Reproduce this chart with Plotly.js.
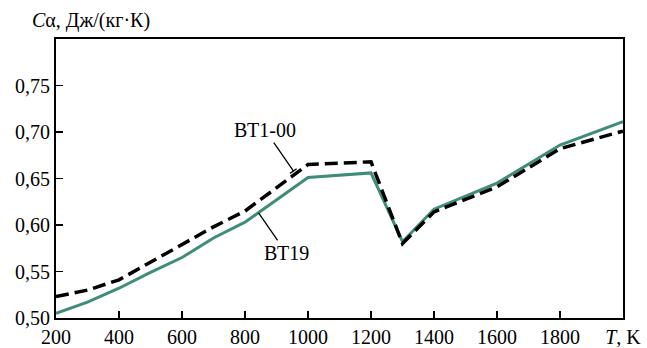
<!DOCTYPE html>
<html>
<head>
<meta charset="utf-8">
<script src="https://cdn.plot.ly/plotly-3.0.1.min.js"></script>
<style>html,body{margin:0;padding:0;background:#fff;}#chart{width:647px;height:348px;}</style>
</head>
<body>
<div id="chart"></div>
<script>
// Temperature, K
const tempBT19 = [200, 300, 400, 500, 600, 700, 800, 1000, 1200, 1300, 1400, 1600, 1800, 2000];
const cpBT19   = [0.505, 0.517, 0.532, 0.549, 0.565, 0.586, 0.603, 0.651, 0.656, 0.582, 0.617, 0.645, 0.686, 0.711];

const tempBT100 = [200, 300, 400, 500, 600, 700, 800, 1000, 1200, 1300, 1400, 1600, 1800, 2000];
const cpBT100   = [0.523, 0.530, 0.541, 0.560, 0.578, 0.598, 0.615, 0.665, 0.668, 0.580, 0.614, 0.641, 0.682, 0.701];

const xTickVals = [200, 400, 600, 800, 1000, 1200, 1400, 1600, 1800, 2000];
const xTickText = ['200', '400', '600', '800', '1000', '1200', '1400', '1600', '1800', '<i>T</i>, K'];
const yTickVals = [0.50, 0.55, 0.60, 0.65, 0.70, 0.75];
const yTickText = ['0,50', '0,55', '0,60', '0,65', '0,70', '0,75'];

const seriesNames = ['ВТ19', 'ВТ1-00'];

const font = {family: 'Liberation Serif, DejaVu Serif, serif', size: 20, color: '#000'};

const traces = [
  {x: tempBT19, y: cpBT19, name: seriesNames[0], mode: 'lines',
   line: {color: '#3f8c7a', width: 3}},
  {x: tempBT100, y: cpBT100, name: seriesNames[1], mode: 'lines',
   line: {color: '#000000', width: 3.5, dash: '13px,6px'}}
];

const layout = {
  width: 647, height: 348,
  margin: {l: 56, r: 24, t: 39, b: 30},
  paper_bgcolor: '#fff', plot_bgcolor: '#fff',
  showlegend: false,
  font: font,
  xaxis: {
    range: [200, 2000], tickvals: xTickVals, ticktext: xTickText,
    ticks: 'inside', ticklen: 7, tickwidth: 1.5, tickcolor: '#000',
    showline: true, linecolor: '#000', linewidth: 2, mirror: true,
    showgrid: false, zeroline: false, tickfont: font, fixedrange: true
  },
  yaxis: {
    range: [0.5, 0.8], tickvals: yTickVals, ticktext: yTickText,
    ticks: 'inside', ticklen: 7, tickwidth: 1.5, tickcolor: '#000',
    showline: true, linecolor: '#000', linewidth: 2, mirror: true,
    showgrid: false, zeroline: false, tickfont: font, fixedrange: true
  },
  shapes: [
    {type: 'line', xref: 'x', yref: 'y', x0: 943, y0: 0.6555, x1: 964, y1: 0.6605,
     line: {color: '#000', width: 1.3}}
  ],
  annotations: [
    {xref: 'paper', yref: 'paper', x: -0.045, y: 1.065, xanchor: 'left', yanchor: 'middle',
     text: '<i>C</i>α, Дж/(кг·К)', showarrow: false, font: font},
    {xref: 'x', yref: 'y', axref: 'x', ayref: 'y',
     x: 954, y: 0.658, ax: 864, ay: 0.702,
     text: seriesNames[1], showarrow: true, arrowhead: 0, arrowwidth: 1.3, arrowcolor: '#000',
     font: font},
    {xref: 'x', yref: 'y', axref: 'x', ayref: 'y',
     x: 843, y: 0.613, ax: 931, ay: 0.570,
     text: seriesNames[0], showarrow: true, arrowhead: 0, arrowwidth: 1.3, arrowcolor: '#000',
     font: font}
  ]
};

Plotly.newPlot('chart', traces, layout, {displayModeBar: false, staticPlot: true});
</script>
</body>
</html>
